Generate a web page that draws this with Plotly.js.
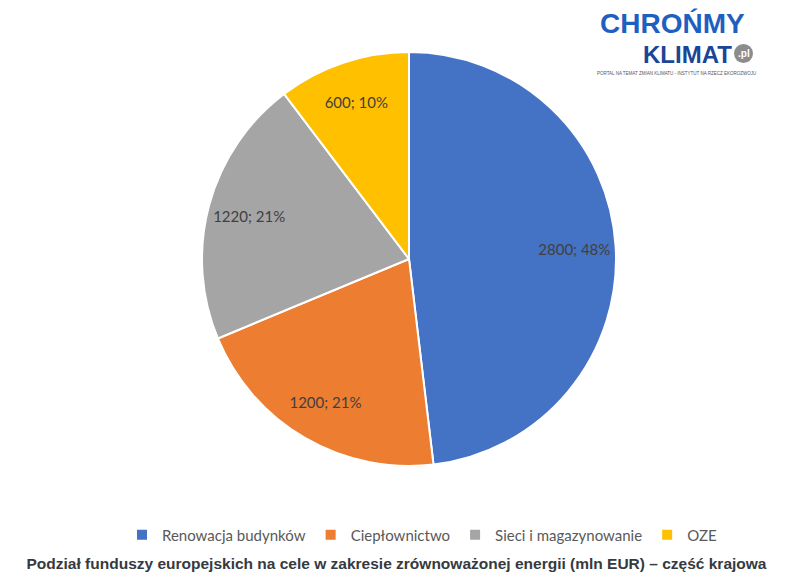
<!DOCTYPE html>
<html>
<head>
<meta charset="utf-8">
<script src="https://cdn.plot.ly/plotly-3.0.1.min.js"></script>
<style>
  html, body { margin: 0; padding: 0; background: #fff; }
  #chart { width: 793px; height: 587px; }
</style>
</head>
<body>
<div id="chart"></div>
<script>
const CATEGORIES = ["Renowacja budynków", "Ciepłownictwo", "Sieci i magazynowanie", "OZE"];
const VALUES = [2800, 1200, 1220, 600];
const COLORS = ["#4472C4", "#ED7D31", "#A5A5A5", "#FFC000"];

const W = 793, H = 587;
const M = { l: 25, r: 0, t: 52, b: 121 };
const PW = W - M.l - M.r, PH = H - M.t - M.b;
// pixel -> paper helpers for the logo
const px = x => (x - M.l) / PW;
const py = y => (H - M.b - y) / PH;

const LABEL_FONT = 'Lato, Open Sans, sans-serif';

// the coloured slices
const slices = {
  type: 'pie',
  labels: CATEGORIES,
  values: VALUES,
  sort: false,
  direction: 'clockwise',
  rotation: 0,
  marker: { colors: COLORS, line: { color: '#ffffff', width: 2 } },
  textinfo: 'none',
  hoverinfo: 'label+value+percent'
};

// transparent ring on top, only to push the data labels towards the rim
const labelRing = {
  type: 'pie',
  labels: CATEGORIES,
  values: VALUES,
  sort: false,
  direction: 'clockwise',
  rotation: 0,
  hole: 0.6,
  showlegend: false,
  marker: { colors: CATEGORIES.map(() => 'rgba(0,0,0,0)'), line: { width: 0 } },
  texttemplate: '%{value}; %{percent:.0%}',
  textposition: 'inside',
  insidetextorientation: 'horizontal',
  insidetextfont: { family: LABEL_FONT, size: 15, color: '#404040' },
  hoverinfo: 'skip'
};

const layout = {
  width: W, height: H,
  margin: M,
  paper_bgcolor: '#ffffff',
  showlegend: true,
  legend: {
    orientation: 'h',
    x: px(422), xanchor: 'center',
    y: py(535), yanchor: 'middle',
    font: { family: LABEL_FONT, size: 15, color: '#595959' },
    itemclick: false
  },
  title: {
    text: '<b>Podział funduszy europejskich na cele w zakresie zrównoważonej energii (mln EUR) – część krajowa</b>',
    font: { family: 'Liberation Sans, Arial, sans-serif', size: 15.5, color: '#353a40' },
    xref: 'container', yref: 'container',
    x: 0.5, xanchor: 'center',
    y: 1 - 564 / H, yanchor: 'middle'
  },
  shapes: [
    { type: 'circle', xref: 'paper', yref: 'paper',
      x0: px(734), x1: px(753), y0: py(63), y1: py(44),
      fillcolor: '#8c8c8c', line: { width: 0 } }
  ],
  annotations: [
    { text: '<b>CHROŃMY</b>', xref: 'paper', yref: 'paper', x: px(598), y: py(24),
      xanchor: 'left', yanchor: 'middle', showarrow: false,
      font: { family: 'Liberation Sans, Arial, sans-serif', size: 28, color: '#1f5fbf' } },
    { text: '<b>KLIMAT</b>', xref: 'paper', yref: 'paper', x: px(641), y: py(54),
      xanchor: 'left', yanchor: 'middle', showarrow: false,
      font: { family: 'Liberation Sans, Arial, sans-serif', size: 24, color: '#1b4596' } },
    { text: '<b>.pl</b>', xref: 'paper', yref: 'paper', x: px(743.5), y: py(53),
      xanchor: 'center', yanchor: 'middle', showarrow: false,
      font: { family: 'Liberation Sans, sans-serif', size: 10, color: '#ffffff' } },
    { text: 'PORTAL NA TEMAT ZMIAN KLIMATU - INSTYTUT NA RZECZ EKOROZWOJU', xref: 'paper', yref: 'paper',
      x: px(676), y: py(73), xanchor: 'center', yanchor: 'middle', showarrow: false,
      font: { family: 'Liberation Sans, sans-serif', size: 4.5, color: '#555555' } }
  ]
};

Plotly.newPlot('chart', [slices, labelRing], layout, { displayModeBar: false, staticPlot: true });
</script>
</body>
</html>
